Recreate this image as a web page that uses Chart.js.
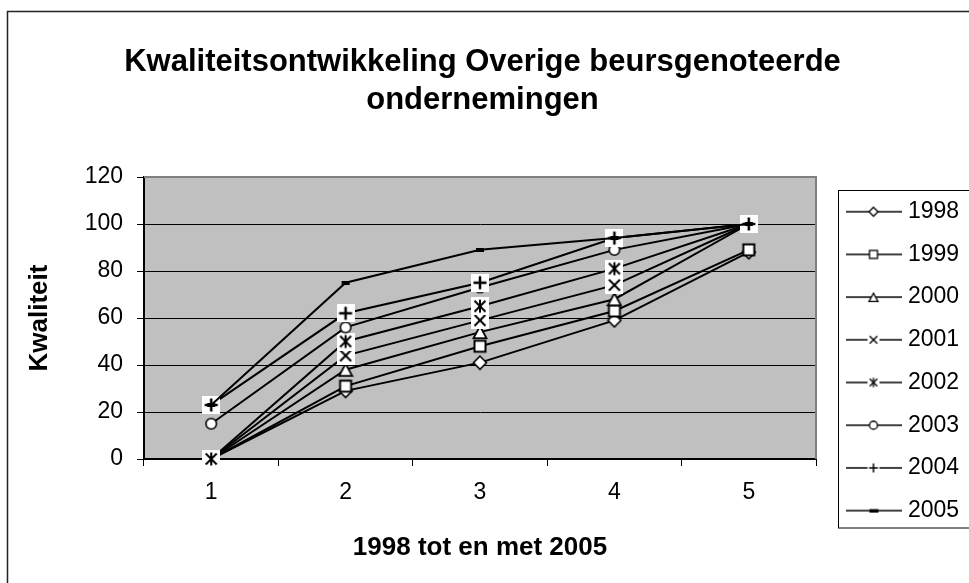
<!DOCTYPE html>
<html><head><meta charset="utf-8">
<script src="https://cdn.jsdelivr.net/npm/chart.js@4.4.1/dist/chart.umd.min.js"></script>
<style>html,body{margin:0;padding:0;background:#fff;}canvas{display:block;}</style>
</head><body>
<canvas id="c" width="969" height="583"></canvas>
<script>
// ---- data ----
const categories = ['1', '2', '3', '4', '5'];
const seriesNames = ['1998', '1999', '2000', '2001', '2002', '2003', '2004', '2005'];
const s1998 = [0, 29, 41, 59, 88];
const s1999 = [0, 31, 48, 63, 89];
const s2000 = [0, 38, 54, 68, 100];
const s2001 = [0, 44, 59, 74, 100];
const s2002 = [0, 50, 65, 81, 100];
const s2003 = [15, 56, 73, 89, 100];
const s2004 = [23, 62, 75, 94, 100];
const s2005 = [23, 75, 89, 94, 100];
const yTicks = [0, 20, 40, 60, 80, 100, 120];
const titleLines = ['Kwaliteitsontwikkeling Overige beursgenoteerde', 'ondernemingen'];
const xTitle = '1998 tot en met 2005';
const yTitle = 'Kwaliteit';
const allSeries = [s1998, s1999, s2000, s2001, s2002, s2003, s2004, s2005];

// ---- marker images ----
function mk(w, h, draw) {
  const c = document.createElement('canvas'); c.width = w; c.height = h;
  const g = c.getContext('2d'); g.strokeStyle = '#000'; g.fillStyle = '#fff'; draw(g, w, h); return c;
}
function line(g, x1, y1, x2, y2) { g.beginPath(); g.moveTo(x1, y1); g.lineTo(x2, y2); g.stroke(); }
function shapeDiamond(g, cx, cy, r, lw) { g.beginPath(); g.moveTo(cx, cy - r); g.lineTo(cx + r, cy); g.lineTo(cx, cy + r); g.lineTo(cx - r, cy); g.closePath(); g.fillStyle = '#fff'; g.fill(); g.lineWidth = lw; g.stroke(); }
function shapeSquare(g, cx, cy, r, lw) { g.fillStyle = '#fff'; g.fillRect(cx - r, cy - r, 2 * r, 2 * r); g.lineWidth = lw; g.strokeRect(cx - r, cy - r, 2 * r, 2 * r); }
function shapeTri(g, cx, cy, r, lw) { g.beginPath(); g.moveTo(cx, cy - r); g.lineTo(cx + r, cy + r * 0.85); g.lineTo(cx - r, cy + r * 0.85); g.closePath(); g.fillStyle = '#fff'; g.fill(); g.lineWidth = lw; g.stroke(); }
function shapeCircle(g, cx, cy, r, lw) { g.beginPath(); g.arc(cx, cy, r, 0, Math.PI * 2); g.fillStyle = '#fff'; g.fill(); g.lineWidth = lw; g.stroke(); }
function bg(g, cx, cy, r) { g.fillStyle = '#fff'; g.fillRect(cx - r, cy - r, 2 * r, 2 * r); }
function shapeX(g, cx, cy, r, lw) { g.lineWidth = lw; line(g, cx - r, cy - r, cx + r, cy + r); line(g, cx - r, cy + r, cx + r, cy - r); }
function shapeStar(g, cx, cy, r, lw) { shapeX(g, cx, cy, r, lw); line(g, cx, cy - r - 1, cx, cy + r + 1); }
function shapePlus(g, cx, cy, r, lw) { g.lineWidth = lw; line(g, cx, cy - r, cx, cy + r); line(g, cx - r, cy, cx + r, cy); }

const dataMarkers = [
  mk(16, 16, g => shapeDiamond(g, 8, 8, 6.5, 1.6)),
  mk(16, 16, g => shapeSquare(g, 8, 8, 5.5, 2)),
  mk(16, 16, g => shapeTri(g, 8, 8.5, 6.5, 1.8)),
  mk(18, 18, g => { bg(g, 9, 9, 9); shapeX(g, 9, 9, 5.5, 2); }),
  mk(18, 18, g => { bg(g, 9, 9, 9); shapeStar(g, 9, 9, 5.5, 2); }),
  mk(14, 14, g => shapeCircle(g, 7, 7, 5.3, 1.6)),
  mk(18, 18, g => { bg(g, 9, 9, 9); shapePlus(g, 9, 9, 6.5, 2.5); }),
  mk(10, 4, g => { g.fillStyle = '#000'; g.fillRect(1, 0, 8, 4); })
];
function legImg(drawMarker) {
  return mk(56, 20, g => { g.lineWidth = 1.5; line(g, 0, 10, 56, 10); drawMarker(g); });
}
const legendMarkers = [
  legImg(g => shapeDiamond(g, 28, 10, 4.5, 1.3)),
  legImg(g => shapeSquare(g, 28, 10, 4, 1.3)),
  legImg(g => shapeTri(g, 28, 10.5, 4.5, 1.3)),
  legImg(g => { bg(g, 28, 10, 6); shapeX(g, 28, 10, 3.8, 1.3); }),
  legImg(g => { bg(g, 28, 10, 6); shapeStar(g, 28, 10, 3.8, 1.3); }),
  legImg(g => shapeCircle(g, 28, 10, 4, 1.3)),
  legImg(g => { bg(g, 28, 10, 6); shapePlus(g, 28, 10, 4.5, 1.5); }),
  legImg(g => { g.fillStyle = '#000'; g.fillRect(24, 8.5, 9, 3.5); })
];

const FONT = '"Liberation Sans", Arial, sans-serif';
Chart.defaults.font.family = FONT;
Chart.defaults.color = '#000';

const datasets = seriesNames.map((n, i) => ({
  label: n,
  data: allSeries[i],
  borderColor: '#000',
  backgroundColor: '#000',
  borderWidth: 2,
  pointStyle: dataMarkers[i],
  pointRadius: 4,
  tension: 0,
  fill: false,
  clip: false,
  order: seriesNames.length - i
}));

const decor = {
  id: 'decor',
  afterInit(chart) {
    const lg = chart.legend;
    const f = lg.fit.bind(lg);
    lg.fit = function () { f(); this.width = 141; };
  },
  beforeDraw(chart) {
    const { ctx, chartArea: a } = chart;
    ctx.save();
    ctx.fillStyle = '#C0C0C0';
    ctx.fillRect(a.left, a.top, a.right - a.left, a.bottom - a.top);
    ctx.strokeStyle = '#222'; ctx.lineWidth = 1.5;
    ctx.strokeRect(7.5, 11.5, 2000, 2000);
    ctx.restore();
    const lg = chart.legend;
    lg.left = 830.8; lg.top = 180.5; lg.right = 990;
  },
  beforeDatasetsDraw(chart) {
    const { ctx, chartArea: a } = chart;
    ctx.save();
    ctx.strokeStyle = '#808080'; ctx.lineWidth = 2;
    ctx.beginPath(); ctx.moveTo(a.left, a.top); ctx.lineTo(a.right, a.top); ctx.lineTo(a.right, a.bottom); ctx.stroke();
    ctx.restore();
  },
  afterDraw(chart) {
    const ctx = chart.ctx;
    ctx.save(); ctx.strokeStyle = '#000'; ctx.lineWidth = 1;
    ctx.strokeRect(838.5, 190.5, 300, 337.5);
    ctx.restore();
  }
};

new Chart(document.getElementById('c'), {
  type: 'line',
  data: { labels: categories, datasets },
  plugins: [decor],
  options: {
    responsive: false,
    animation: false,
    devicePixelRatio: 1,
    events: [],
    layout: { padding: { left: 8, right: 12, top: 12, bottom: 0 } },
    plugins: {
      tooltip: { enabled: false },
      title: {
        display: true, text: titleLines, color: '#000',
        font: { size: 31, weight: 'bold', lineHeight: '38px', family: FONT },
        padding: { top: 31, bottom: 58 }
      },
      legend: {
        position: 'right', align: 'start',
        labels: {
          usePointStyle: true, pointStyleWidth: 46, padding: 19.7, color: '#000',
          font: { size: 23, family: FONT },
          generateLabels(chart) {
            const items = Chart.defaults.plugins.legend.labels.generateLabels(chart);
            items.forEach(it => { it.pointStyle = legendMarkers[it.datasetIndex]; });
            return items;
          },
          sort: (a, b) => a.datasetIndex - b.datasetIndex
        }
      }
    },
    scales: {
      x: {
        type: 'category', offset: true,
        grid: { offset: true, drawOnChartArea: false, drawTicks: true, tickLength: 7, color: '#000', lineWidth: 1 },
        border: { display: true, color: '#000', width: 2 },
        ticks: { color: '#000', font: { size: 23, family: FONT }, padding: 13, maxRotation: 0 },
        title: { display: true, text: xTitle, color: '#000', font: { size: 26, weight: 'bold', family: FONT }, padding: { top: 0, bottom: 19.4 } },
        afterFit(s) { s.height = 124; }
      },
      y: {
        min: yTicks[0], max: yTicks[yTicks.length - 1],
        ticks: { stepSize: yTicks[1] - yTicks[0], color: '#000', font: { size: 23, family: FONT }, padding: 14 },
        grid: { color: '#000', lineWidth: 1, tickLength: 7, drawTicks: true },
        border: { display: true, color: '#000', width: 2 },
        title: { display: true, text: yTitle, color: '#000', font: { size: 26, weight: 'bold', family: FONT }, padding: { top: 16.4, bottom: 0 } },
        afterFit(s) { s.width = 136; }
      }
    }
  }
});
</script>
</body></html>
